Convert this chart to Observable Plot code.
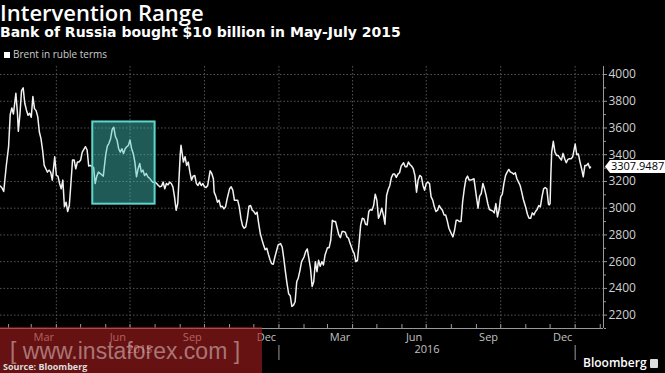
<!DOCTYPE html>
<html><head><meta charset="utf-8">
<script src="https://cdn.jsdelivr.net/npm/d3@7"></script>
<script src="https://cdn.jsdelivr.net/npm/@observablehq/plot@0.6"></script>
<style>
body{margin:0;background:#000;}
#wrap{position:relative;width:665px;height:373px;overflow:hidden;background:#000;font-family:"Open Sans",sans-serif;}
#chart{position:absolute;left:0;top:0;}
.t{position:absolute;white-space:nowrap;line-height:1.1;}
#title{left:0;top:0px;color:#fff;font-size:22px;font-weight:600;}
#subtitle{left:0;top:25px;color:#fff;font-size:14px;font-weight:700;font-family:"DejaVu Sans",sans-serif;}
#legend{left:4px;top:49px;color:#ccc;font-size:10px;}
#legend span.sw{display:inline-block;width:6px;height:6px;background:#fff;margin-right:3px;vertical-align:0px;}
#source{left:3px;top:362px;color:#ddd;font-size:9px;font-weight:700;}
#bbg{left:583px;top:356px;color:#fff;font-size:12px;font-weight:600;}
#bbg span.ic{display:inline-block;width:8px;height:9px;background:#ddd;margin-left:3px;vertical-align:-1px;border-radius:1px;}
#wm{position:absolute;left:0;top:327px;width:262px;height:46px;background:rgba(170,30,30,0.6);}
#wmt{left:10px;top:339px;color:rgba(225,205,205,0.55);font-size:23px;font-family:"Liberation Sans",sans-serif;}
</style></head>
<body><div id="wrap">
<div id="chart"></div>
<div class="t" id="title">Intervention Range</div>
<div class="t" id="subtitle">Bank of Russia bought $10 billion in May-July 2015</div>
<div class="t" id="legend"><span class="sw"></span>Brent in ruble terms</div>
<div class="t" id="bbg">Bloomberg<span class="ic"></span></div>
<div id="wm"></div>
<div class="t" id="source">Source: Bloomberg</div>
<div class="t" id="wmt">[ www.instaforex.com ]</div>
</div>
<script>
// Brent in ruble terms
const brentRub = [
["2015-01-22",3165],["2015-01-24",3150],["2015-01-26",3125],["2015-01-29",3310],["2015-02-01",3460],["2015-02-03",3700],["2015-02-05",3750],["2015-02-07",3705],["2015-02-10",3860],["2015-02-12",3705],["2015-02-13",3575],["2015-02-15",3700],["2015-02-17",3880],["2015-02-19",3900],["2015-02-21",3785],["2015-02-23",3735],["2015-02-25",3695],["2015-02-27",3710],["2015-03-01",3680],["2015-03-03",3835],["2015-03-05",3745],["2015-03-07",3730],["2015-03-09",3685],["2015-03-11",3570],["2015-03-13",3520],["2015-03-15",3435],["2015-03-17",3320],["2015-03-19",3295],["2015-03-21",3270],["2015-03-23",3285],["2015-03-25",3270],["2015-03-27",3210],["2015-03-30",3385],["2015-04-01",3245],["2015-04-03",3240],["2015-04-05",3185],["2015-04-07",3145],["2015-04-09",3210],["2015-04-11",3010],["2015-04-13",3045],["2015-04-15",2975],["2015-04-17",3020],["2015-04-19",3185],["2015-04-21",3360],["2015-04-23",3360],["2015-04-25",3295],["2015-04-27",3345],["2015-04-29",3345],["2015-05-01",3360],["2015-05-03",3420],["2015-05-05",3440],["2015-05-07",3460],["2015-05-09",3435],["2015-05-11",3315],["2015-05-13",3320],["2015-05-15",3310],["2015-05-17",3305],["2015-05-19",3185],["2015-05-21",3240],["2015-05-23",3270],["2015-05-25",3260],["2015-05-27",3250],["2015-05-29",3240],["2015-06-01",3400],["2015-06-03",3465],["2015-06-05",3485],["2015-06-07",3520],["2015-06-09",3590],["2015-06-11",3605],["2015-06-13",3535],["2015-06-15",3510],["2015-06-17",3445],["2015-06-19",3420],["2015-06-21",3445],["2015-06-23",3410],["2015-06-25",3445],["2015-06-27",3460],["2015-06-29",3470],["2015-07-01",3510],["2015-07-03",3445],["2015-07-05",3410],["2015-07-07",3345],["2015-07-09",3235],["2015-07-11",3295],["2015-07-13",3335],["2015-07-15",3270],["2015-07-17",3285],["2015-07-19",3245],["2015-07-21",3260],["2015-07-23",3235],["2015-07-25",3225],["2015-07-27",3210],["2015-07-29",3195],["2015-08-01",3195],["2015-08-03",3185],["2015-08-05",3170],["2015-08-07",3160],["2015-08-09",3165],["2015-08-11",3195],["2015-08-13",3145],["2015-08-15",3185],["2015-08-17",3175],["2015-08-19",3195],["2015-08-21",3185],["2015-08-23",3160],["2015-08-25",3085],["2015-08-27",2985],["2015-08-29",3035],["2015-09-01",3395],["2015-09-02",3470],["2015-09-05",3345],["2015-09-07",3385],["2015-09-09",3320],["2015-09-11",3345],["2015-09-13",3270],["2015-09-15",3210],["2015-09-17",3240],["2015-09-19",3245],["2015-09-21",3185],["2015-09-23",3170],["2015-09-25",3195],["2015-09-27",3170],["2015-09-29",3185],["2015-10-01",3160],["2015-10-03",3155],["2015-10-05",3170],["2015-10-08",3280],["2015-10-10",3260],["2015-10-12",3220],["2015-10-13",3120],["2015-10-15",3090],["2015-10-17",3045],["2015-10-19",3060],["2015-10-21",3010],["2015-10-23",3015],["2015-10-25",2995],["2015-10-27",3010],["2015-10-29",3070],["2015-11-01",3145],["2015-11-03",3160],["2015-11-05",3135],["2015-11-07",3060],["2015-11-09",3060],["2015-11-11",3060],["2015-11-13",3010],["2015-11-15",2925],["2015-11-17",2870],["2015-11-19",2850],["2015-11-21",2860],["2015-11-23",2925],["2015-11-25",3015],["2015-11-27",3020],["2015-11-29",2985],["2015-12-01",2975],["2015-12-03",2955],["2015-12-05",2970],["2015-12-07",2885],["2015-12-09",2810],["2015-12-11",2765],["2015-12-13",2725],["2015-12-15",2690],["2015-12-17",2700],["2015-12-19",2655],["2015-12-21",2615],["2015-12-23",2585],["2015-12-25",2580],["2015-12-27",2635],["2015-12-29",2680],["2015-12-31",2725],
["2016-01-03",2735],["2016-01-05",2710],["2016-01-07",2625],["2016-01-09",2525],["2016-01-11",2435],["2016-01-13",2360],["2016-01-15",2345],["2016-01-17",2265],["2016-01-19",2275],["2016-01-21",2300],["2016-01-23",2450],["2016-01-25",2480],["2016-01-27",2535],["2016-01-29",2600],["2016-02-01",2635],["2016-02-03",2675],["2016-02-05",2695],["2016-02-07",2625],["2016-02-09",2550],["2016-02-11",2415],["2016-02-13",2450],["2016-02-15",2600],["2016-02-17",2525],["2016-02-19",2610],["2016-02-21",2565],["2016-02-23",2600],["2016-02-25",2575],["2016-02-27",2650],["2016-03-01",2705],["2016-03-03",2705],["2016-03-05",2760],["2016-03-07",2910],["2016-03-09",2900],["2016-03-11",2900],["2016-03-13",2850],["2016-03-15",2800],["2016-03-17",2780],["2016-03-19",2825],["2016-03-21",2825],["2016-03-23",2820],["2016-03-25",2785],["2016-03-27",2775],["2016-03-29",2735],["2016-04-01",2685],["2016-04-03",2660],["2016-04-05",2600],["2016-04-07",2610],["2016-04-09",2735],["2016-04-11",2875],["2016-04-13",2925],["2016-04-15",2920],["2016-04-17",2880],["2016-04-19",2875],["2016-04-21",2975],["2016-04-23",2990],["2016-04-25",2985],["2016-04-27",3020],["2016-04-29",3105],["2016-05-01",3060],["2016-05-03",2925],["2016-05-05",2955],["2016-05-07",3000],["2016-05-09",2950],["2016-05-11",2880],["2016-05-13",3095],["2016-05-15",3140],["2016-05-17",3170],["2016-05-19",3230],["2016-05-21",3255],["2016-05-23",3255],["2016-05-25",3230],["2016-05-27",3255],["2016-05-29",3265],["2016-05-31",3315],["2016-06-03",3340],["2016-06-05",3310],["2016-06-07",3310],["2016-06-09",3345],["2016-06-11",3325],["2016-06-13",3315],["2016-06-15",3295],["2016-06-17",3245],["2016-06-19",3120],["2016-06-21",3210],["2016-06-23",3245],["2016-06-25",3235],["2016-06-27",3170],["2016-06-29",3135],["2016-07-01",3185],["2016-07-03",3195],["2016-07-05",3185],["2016-07-07",3085],["2016-07-09",3060],["2016-07-11",3010],["2016-07-13",2975],["2016-07-15",2985],["2016-07-17",3020],["2016-07-19",3000],["2016-07-21",2985],["2016-07-23",2950],["2016-07-25",2950],["2016-07-27",2905],["2016-07-29",2850],["2016-08-01",2810],["2016-08-03",2785],["2016-08-05",2835],["2016-08-07",2910],["2016-08-09",2910],["2016-08-11",2900],["2016-08-13",2900],["2016-08-15",3050],["2016-08-17",3145],["2016-08-19",3220],["2016-08-21",3240],["2016-08-23",3210],["2016-08-25",3210],["2016-08-27",3215],["2016-08-29",3220],["2016-09-01",3085],["2016-09-03",3000],["2016-09-05",3090],["2016-09-07",3110],["2016-09-09",3185],["2016-09-11",3145],["2016-09-13",3095],["2016-09-15",3035],["2016-09-17",2990],["2016-09-19",2985],["2016-09-21",2980],["2016-09-23",2965],["2016-09-25",3035],["2016-09-27",2935],["2016-09-29",2990],["2016-10-01",3085],["2016-10-03",3105],["2016-10-05",3185],["2016-10-07",3245],["2016-10-09",3270],["2016-10-11",3290],["2016-10-13",3270],["2016-10-15",3265],["2016-10-17",3255],["2016-10-19",3265],["2016-10-21",3220],["2016-10-23",3195],["2016-10-25",3170],["2016-10-27",3120],["2016-10-29",3065],["2016-11-01",3005],["2016-11-03",2955],["2016-11-05",2925],["2016-11-07",2925],["2016-11-09",2965],["2016-11-11",2950],["2016-11-13",2975],["2016-11-15",2990],["2016-11-17",3020],["2016-11-19",3010],["2016-11-21",3085],["2016-11-23",3145],["2016-11-25",3155],["2016-11-27",3145],["2016-11-29",3030],["2016-11-30",3025],["2016-12-01",3035],["2016-12-02",3260],["2016-12-03",3420],["2016-12-05",3500],["2016-12-07",3420],["2016-12-09",3395],["2016-12-11",3395],["2016-12-13",3375],["2016-12-15",3360],["2016-12-17",3410],["2016-12-19",3370],["2016-12-21",3340],["2016-12-23",3365],["2016-12-25",3370],["2016-12-27",3370],["2016-12-29",3385],
["2017-01-01",3480],["2017-01-03",3400],["2017-01-05",3405],["2017-01-07",3345],["2017-01-09",3295],["2017-01-11",3235],["2017-01-13",3320],["2017-01-15",3320],["2017-01-17",3335],["2017-01-19",3300],["2017-01-20",3307.9487]
];
// Intervention window (May-July 2015) and its price band
const interventionDates = ["2015-05-16", "2015-08-01"];
const interventionBand = [3030, 3645];
// Axis ticks / labels
const yTicks = [2200, 2400, 2600, 2800, 3000, 3200, 3400, 3600, 3800, 4000];
const yMinorTicks = [2100, 2300, 2500, 2700, 2900, 3100, 3300, 3500, 3700, 3900];
const monthLabels = ["2015-03", "2015-06", "2015-09", "2015-12", "2016-03", "2016-06", "2016-09", "2016-12"];
const yearLabels = ["2015", "2016"];
const xStart = "2015-01-22", xEnd = "2017-02-05";
const yDomain = [2100, 4060];

const parse = d3.utcParse("%Y-%m-%d");
const data = brentRub.map(([d, v]) => ({date: parse(d), value: v}));
const x0 = parse(xStart), x1 = parse(xEnd);
const last = data[data.length - 1];

const monthPos = monthLabels.map(m => {
  const s = d3.utcParse("%Y-%m")(m);
  const e = d3.utcMonth.offset(s, 1);
  return new Date((+s + +e) / 2);
});
const yearPos = yearLabels.map(y => {
  const s = new Date(Math.max(+d3.utcParse("%Y")(y), +x0));
  const e = new Date(Math.min(+d3.utcParse("%Y")(String(+y + 1)), +x1));
  return {year: y, date: new Date((+s + +e) / 2)};
});
const yearBounds = d3.utcYear.range(d3.utcYear.ceil(x0), x1);
const quarterStarts = d3.utcMonth.range(x0, x1).filter(d => d.getUTCMonth() % 3 === 0);
const monthStarts = d3.utcMonth.range(d3.utcMonth.ceil(x0), x1);

const valueTag = (index, scales, values, dims) => {
  const y = scales.y(last.value);
  const xa = dims.width - dims.marginRight + 2;
  const g = d3.create("svg:g");
  g.append("path")
    .attr("d", `M${xa},${y} L${xa + 5},${y - 6.5} H${dims.width} V${y + 6.5} H${xa + 5} Z`)
    .attr("fill", "#fff");
  g.append("text").attr("x", xa + 6).attr("y", y).attr("dy", "0.36em")
    .attr("text-anchor", "start")
    .attr("fill", "#000").attr("font-size", 11).attr("font-family", "Open Sans, sans-serif")
    .text(d3.format(".4f")(last.value));
  return g.node();
};

const chart = Plot.plot({
  width: 665, height: 373,
  marginTop: 66, marginBottom: 45, marginLeft: 0, marginRight: 62,
  style: {background: "#000", color: "#ccc", fontFamily: "Open Sans, sans-serif", overflow: "visible"},
  x: {type: "utc", domain: [x0, x1]},
  y: {domain: yDomain},
  marks: [
    Plot.ruleY(yTicks, {stroke: "#555", strokeDasharray: "1.5,2"}),
    Plot.ruleX(quarterStarts, {stroke: "#555", strokeDasharray: "1.5,2"}),
    Plot.ruleX(monthStarts, {stroke: "#999", insetTop: 258}),
    Plot.ruleX([x1], {stroke: "#999"}),
    Plot.ruleY([yDomain[0]], {stroke: "#999"}),
    Plot.line(data, {x: "date", y: "value", stroke: "#f2f2f2", strokeWidth: 1.5}),
    Plot.rect([0], {
      x1: () => parse(interventionDates[0]), x2: () => parse(interventionDates[1]),
      y1: () => interventionBand[0], y2: () => interventionBand[1],
      fill: "rgb(70,200,190)", fillOpacity: 0.45, stroke: "rgb(90,215,205)", strokeWidth: 2
    }),
    Plot.axisY(yTicks, {anchor: "right", tickSize: 3, tickPadding: 2, stroke: "#999", fill: "#d0d0d0", fontSize: 12, tickFormat: d3.format("d"), label: null}),
    Plot.axisY(yMinorTicks, {anchor: "right", tickSize: 2, stroke: "#999", tickFormat: () => "", label: null}),
    Plot.axisX(monthPos, {anchor: "bottom", tickSize: 0, tickPadding: 5, fill: "#c0c0c0", fontSize: 11, tickFormat: d3.utcFormat("%b"), label: null}),
    Plot.text(yearPos, {x: "date", text: "year", frameAnchor: "bottom", dy: 24, fill: "#c0c0c0", fontSize: 11}),
    Plot.ruleX(yearBounds, {stroke: "#999", insetTop: 279, insetBottom: -32}),
    valueTag
  ]
});
document.getElementById("chart").appendChild(chart);
</script>
</body></html>
